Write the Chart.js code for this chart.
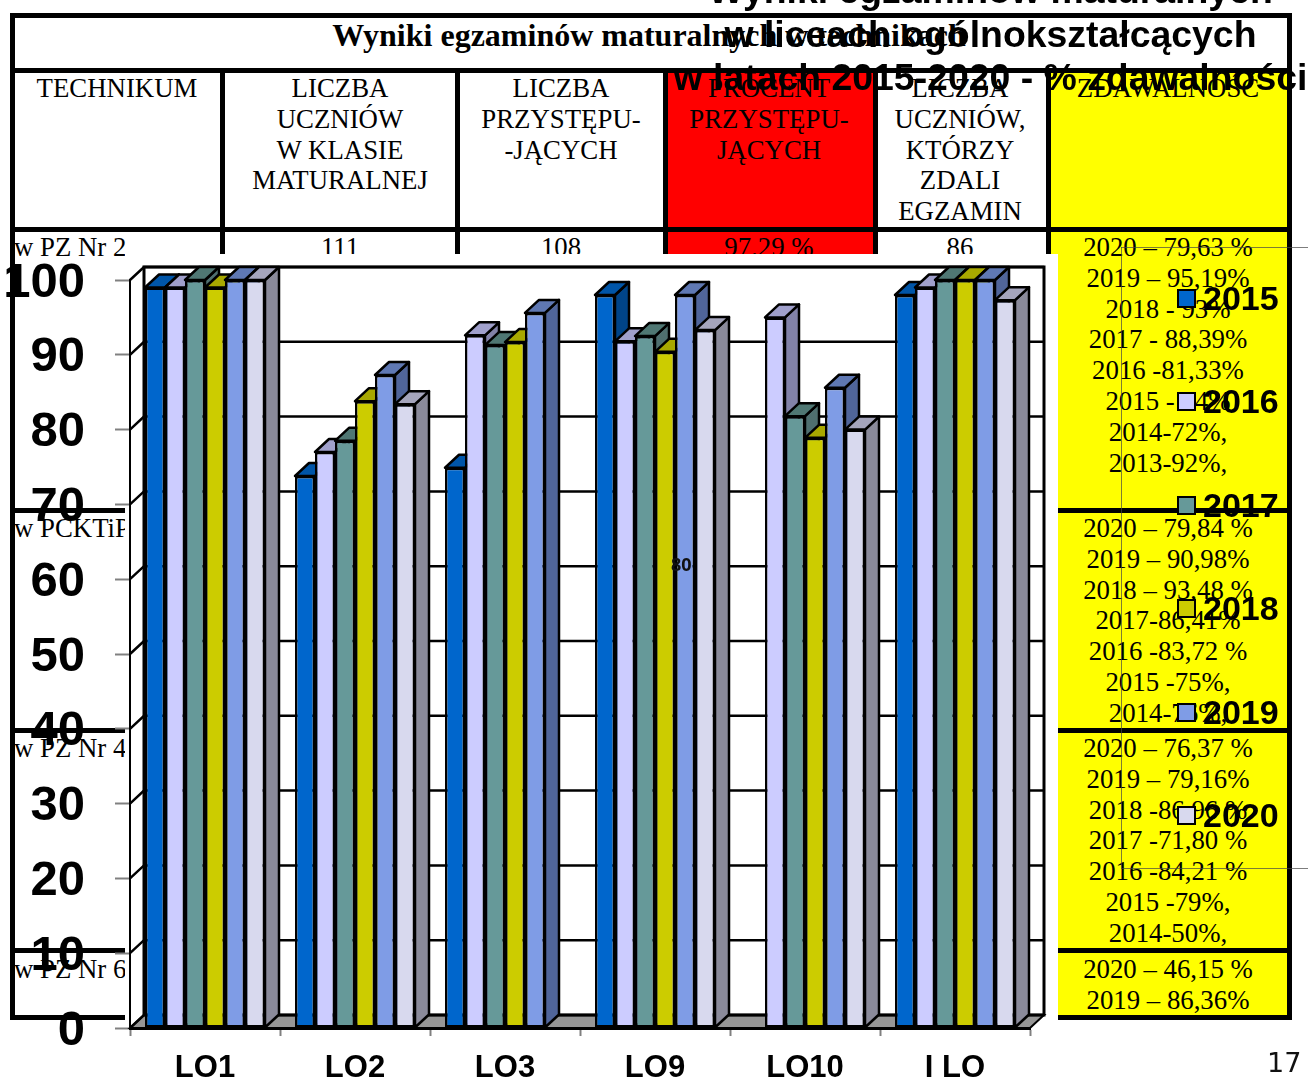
<!DOCTYPE html>
<html lang="pl">
<head>
<meta charset="utf-8">
<title>Wyniki egzaminów maturalnych</title>
<script src="https://cdn.jsdelivr.net/npm/chart.js@4"></script>
<style>
    html, body { margin: 0; padding: 0; background: #fff; }
    #page { position: relative; width: 1308px; height: 1080px; overflow: hidden; }
    #page div { position: absolute; }
    .txt { font: 26.8px/30.8px "Liberation Serif", serif; color: #000; text-align: center; white-space: pre; transform: translateX(-50%); }
    .line { background: #000; }
    #chartBox { left: 0; top: 0; width: 1308px; height: 1088px; }
    #overTitle { left: 0; top: -31px; width: 1981px; text-align: center; font: bold 37.4px/43.5px "Liberation Sans", sans-serif; white-space: pre; color: #000; }
    .swatch { width: 15px; height: 15px; border: 2px solid #000; }
    .legendText { font: bold 34px/40px "Liberation Sans", sans-serif; color: #000; }
</style>
</head>
<body>
<div id="page">
    <div id="table"></div>
    <div id="chartBox"><canvas id="barChart" width="1308" height="1088"></canvas></div>
    <div id="legend"></div>
    <div id="overTitle"></div>
    <div style="left:671px;top:554px;font:bold 18px/20px 'Open Sans',sans-serif;color:#111;">80</div>
    <div style="left:1267px;top:1046px;font:27px/34px 'DejaVu Sans',sans-serif;color:#111;">17</div>
</div>

<script>
const schools = ['LO1', 'LO2', 'LO3', 'LO9', 'LO10', 'I LO'];
const years = ['2015', '2016', '2017', '2018', '2019', '2020'];
const values2015 = [99, 73.8, 74.9, 98, null, 98];
const values2016 = [99, 77, 92.6, 91.8, 95, 99];
const values2017 = [100, 78.5, 91.3, 92.5, 81.8, 100];
const values2018 = [99, 83.8, 91.7, 90.4, 78.9, 100];
const values2019 = [100, 87.3, 95.6, 98, 85.6, 100];
const values2020 = [100, 83.4, null, 93.3, 80, 97.3];

const frontColors = ['#0066CC', '#CCCCFF', '#669999', '#CCCC00', '#7F9CE6', '#D8D9EE'];
const topColors = ['#0055A8', '#A0A0CC', '#4F7773', '#A8A800', '#5F78B3', '#A5A5BC'];
const sideColors = ['#004488', '#8282A8', '#4F6F6F', '#8C8C00', '#50659A', '#8A8A9A'];

const titleLines = ['Wyniki egzaminów maturalnych', 'w liceach ogólnokształcących', 'w latach 2015-2020 - % zdawalności'];
const tableTitle = 'Wyniki egzaminów maturalnych w technikach';
const headers = ['TECHNIKUM', 'LICZBA\nUCZNIÓW\nW KLASIE\nMATURALNEJ', 'LICZBA\nPRZYSTĘPU-\n-JĄCYCH', 'PROCENT\nPRZYSTĘPU-\nJĄCYCH', 'LICZBA\nUCZNIÓW,\nKTÓRZY\nZDALI\nEGZAMIN', 'ZDAWALNOŚĆ'];
const rowNames = ['w PZ Nr 2', 'w PCKTiP', 'w PZ Nr 4', 'w PZ Nr 6'];
const rowOne = ['111', '108', '97,29 %', '86'];
const passRates = [
    ['2020 – 79,63 %', '2019 – 95,19%', '2018 - 93%', '2017 - 88,39%', '2016 -81,33%', '2015 - 84%', '2014-72%,', '2013-92%,'],
    ['2020 – 79,84 %', '2019 – 90,98%', '2018 – 93,48 %', '2017-86,41%', '2016 -83,72 %', '2015 -75%,', '2014-76%,'],
    ['2020 – 76,37 %', '2019 – 79,16%', '2018 -86,96 %', '2017 -71,80 %', '2016 -84,21 %', '2015 -79%,', '2014-50%,'],
    ['2020 – 46,15 %', '2019 – 86,36%']
];

const DEPTH_X = 14;
const DEPTH_Y = 13;

function addDiv(parent, css, text, cls) {
    const d = document.createElement('div');
    d.style.cssText = css;
    if (cls) d.className = cls;
    if (text) d.textContent = text;
    parent.appendChild(d);
    return d;
}

function renderTable() {
    const t = document.getElementById('table');
    const centers = [117, 340, 561, 769, 960, 1168];
    const rowTops = [232, 513, 733, 954];

    // coloured cells first, borders go on top
    addDiv(t, 'left:665px;top:70px;width:210px;height:184px;background:#FF0000;');
    addDiv(t, 'left:1048px;top:70px;width:240px;height:948px;background:#FFFF00;');

    headers.forEach((h, i) => addDiv(t, `left:${centers[i]}px;top:73px;`, h, 'txt'));
    addDiv(t, 'left:649px;top:16px;font:bold 32px/38px "Liberation Serif",serif;white-space:pre;transform:translateX(-50%);', tableTitle);

    rowNames.forEach((name, i) => addDiv(t, `left:14px;top:${rowTops[i]}px;transform:none;`, name, 'txt'));
    rowOne.forEach((v, i) => addDiv(t, `left:${centers[i + 1]}px;top:${rowTops[0]}px;`, v, 'txt'));
    passRates.forEach((lines, i) => addDiv(t, `left:1168px;top:${rowTops[i]}px;`, lines.join('\n'), 'txt'));

    [[12, 13, 1279, 5], [12, 68, 1279, 5], [12, 227, 1279, 5],
     [12, 508, 1279, 5], [12, 728, 1279, 5], [12, 948, 1279, 5], [12, 1015, 1279, 5]]
        .forEach(l => addDiv(t, `left:${l[0]}px;top:${l[1]}px;width:${l[2]}px;height:${l[3]}px;`, '', 'line'));
    [[10, 13, 1007], [220, 70, 184], [455, 70, 184], [663, 70, 184], [873, 70, 184], [1046, 70, 184], [1287, 13, 1007]]
        .forEach(l => addDiv(t, `left:${l[0]}px;top:${l[1]}px;width:5px;height:${l[2]}px;`, '', 'line'));

    // white plate of the pasted chart
    addDiv(t, 'left:125px;top:254px;width:933px;height:800px;background:#fff;');

    // thin frame left over from the chart object
    const thin = 'background:rgba(70,70,70,0.7);';
    addDiv(t, `left:1121px;top:247px;width:187px;height:1px;${thin}`);
    addDiv(t, `left:1121px;top:868px;width:187px;height:1px;${thin}`);
    addDiv(t, `left:1121px;top:247px;width:1px;height:621px;${thin}`);
}

function renderLegend() {
    const box = document.getElementById('legend');
    const tops = [298, 401, 505, 608, 712, 815];
    years.forEach((y, i) => {
        addDiv(box, `left:1177px;top:${tops[i] - 9}px;background:${frontColors[i]};`, '', 'swatch');
        addDiv(box, `left:1203px;top:${tops[i] - 20}px;`, y, 'legendText');
    });
}

// back wall, side wall and floor of the 3D box
const wallsPlugin = {
    id: 'walls',
    beforeDatasetsDraw(chart) {
        const { ctx, chartArea: a, scales } = chart;
        const y = scales.y;
        ctx.save();
        ctx.fillStyle = '#969696';
        ctx.strokeStyle = '#000';
        ctx.lineWidth = 2;
        ctx.beginPath();
        ctx.moveTo(a.left, a.bottom);
        ctx.lineTo(a.left + DEPTH_X, a.bottom - DEPTH_Y);
        ctx.lineTo(a.right + DEPTH_X, a.bottom - DEPTH_Y);
        ctx.lineTo(a.right, a.bottom);
        ctx.closePath();
        ctx.fill();
        ctx.stroke();

        ctx.lineWidth = 3;
        ctx.strokeRect(a.left + DEPTH_X, a.top - DEPTH_Y, a.width, a.height);
        ctx.lineWidth = 2.5;
        y.ticks.forEach(t => {
            const py = y.getPixelForValue(t.value);
            ctx.beginPath();
            ctx.moveTo(a.left, py);
            ctx.lineTo(a.left + DEPTH_X, py - DEPTH_Y);
            ctx.lineTo(a.right + DEPTH_X, py - DEPTH_Y);
            ctx.stroke();
        });
        ctx.restore();

        drawDepthFaces(chart);
    }
};

// sides and tops are painted left to right, the library paints the fronts over them
function drawDepthFaces(chart) {
    const ctx = chart.ctx;
    ctx.save();
    ctx.strokeStyle = '#000';
    ctx.lineWidth = 2.5;
    ctx.lineJoin = 'round';
    schools.forEach((_, s) => {
        chart.data.datasets.forEach((ds, d) => {
            if (ds.data[s] == null) return;
            const bar = chart.getDatasetMeta(d).data[s];
            const l = bar.x - bar.width / 2;
            const r = bar.x + bar.width / 2;
            ctx.fillStyle = sideColors[d];
            ctx.beginPath();
            ctx.moveTo(r, bar.y);
            ctx.lineTo(r + DEPTH_X, bar.y - DEPTH_Y);
            ctx.lineTo(r + DEPTH_X, bar.base - DEPTH_Y);
            ctx.lineTo(r, bar.base);
            ctx.closePath();
            ctx.fill();
            ctx.stroke();
            ctx.fillStyle = topColors[d];
            ctx.beginPath();
            ctx.moveTo(l, bar.y);
            ctx.lineTo(l + DEPTH_X, bar.y - DEPTH_Y);
            ctx.lineTo(r + DEPTH_X, bar.y - DEPTH_Y);
            ctx.lineTo(r, bar.y);
            ctx.closePath();
            ctx.fill();
            ctx.stroke();
        });
    });
    ctx.restore();
}

function renderChart() {
    const series = [values2015, values2016, values2017, values2018, values2019, values2020];
    new Chart(document.getElementById('barChart'), {
        type: 'bar',
        data: {
            labels: schools,
            datasets: series.map((data, i) => ({
                label: years[i],
                data,
                backgroundColor: frontColors[i],
                borderColor: '#000',
                borderWidth: 2.5,
                borderSkipped: false,
                categoryPercentage: 0.8,
                barPercentage: 1
            }))
        },
        options: {
            responsive: false,
            animation: false,
            layout: { padding: { left: 0, top: 280, right: 278, bottom: 0 } },
            plugins: { legend: { display: false }, title: { display: false }, tooltip: { enabled: false } },
            scales: {
                x: {
                    afterFit: s => { s.height = 60; },
                    border: { color: '#000', width: 3 },
                    grid: { drawOnChartArea: false, tickLength: 8, tickColor: '#808080', tickWidth: 2 },
                    ticks: { color: '#000', padding: 14, font: { family: '"Liberation Sans"', weight: 'bold', size: 31 } }
                },
                y: {
                    min: 0,
                    max: 100,
                    afterFit: s => { s.width = 130; },
                    border: { color: '#000', width: 2 },
                    grid: { drawOnChartArea: false, tickLength: 15, tickColor: '#808080', tickWidth: 2 },
                    ticks: { stepSize: 10, color: '#000', padding: 30, labelOffset: 3, font: { family: '"Liberation Sans"', weight: 'bold', size: 49 } }
                }
            }
        },
        plugins: [wallsPlugin]
    });
}

renderTable();
renderLegend();
document.getElementById('overTitle').textContent = titleLines.join('\n');
renderChart();
</script>
</body>
</html>
